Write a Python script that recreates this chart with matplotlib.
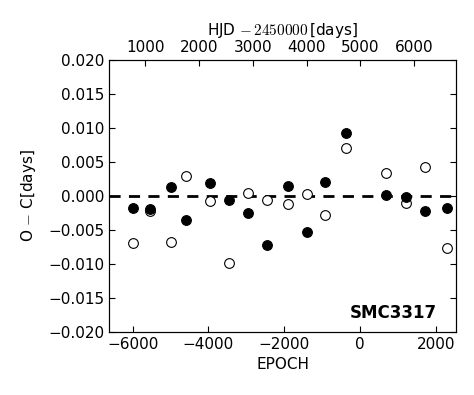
import matplotlib
matplotlib.use("Agg")
import matplotlib.pyplot as plt

plt.rcParams["font.family"] = "DejaVu Sans"
plt.rcParams["mathtext.fontset"] = "cm"
plt.rcParams["font.size"] = 11

# O-C data
epoch = [-6000, -5536, -4982, -4587, -3972, -3453, -2944, -2452,
         -1907, -1397, -914, -369, 677, 1213, 1722, 2302]
oc_filled = [-0.00182, -0.0019, 0.00138, -0.0036, 0.0019, -0.00054, -0.00246, -0.00724,
             0.00148, -0.00527, 0.00212, 0.00921, 0.0001, -0.00015, -0.00222, -0.00172]
oc_open = [-0.0069, -0.00227, -0.0068, 0.0029, -0.0007, -0.0099, 0.00044, -0.00054,
           -0.00123, 0.00034, -0.00276, 0.00704, 0.0034, -0.00103, 0.00433, -0.00773]

EPOCH_LIM = (-6625, 2535)
HJD_LIM = (324, 6782)

fig = plt.figure(figsize=(4.74, 3.95), dpi=100)
ax = fig.add_axes([0.230, 0.160, 0.732, 0.688])

ax.axhline(0.0, color="black", linestyle="--", linewidth=2, dashes=(4, 3))
ax.plot(epoch, oc_open, "o", mfc="white", mec="black", ms=7, mew=0.8)
ax.plot(epoch, oc_filled, "o", mfc="black", mec="black", ms=7, mew=0.8)

ax.set_xlim(*EPOCH_LIM)
ax.set_ylim(-0.02, 0.02)
ax.set_yticks([-0.02, -0.015, -0.01, -0.005, 0.0, 0.005, 0.01, 0.015, 0.02])
ax.set_yticklabels([f"{v:.3f}".replace("-", "\u2212") for v in ax.get_yticks()])
ax.set_xticks([-6000, -4000, -2000, 0, 2000])
ax.tick_params(direction="in", length=4, right=True, top=False)
ax.set_xlabel("EPOCH")
ax.set_ylabel(r"O$\,-\,$C[days]", labelpad=7)

ax2 = ax.twiny()
ax2.set_xlim(*HJD_LIM)
ax2.set_xticks([1000, 2000, 3000, 4000, 5000, 6000])
ax2.tick_params(direction="in", length=4)
ax2.set_xlabel(r"HJD $-\,2450000\,$[days]", labelpad=4)

ax.text(0.944, 0.07, "SMC3317", transform=ax.transAxes, ha="right", va="center",
        fontsize=12, fontweight="bold")

fig.savefig("out.png", dpi=100)
